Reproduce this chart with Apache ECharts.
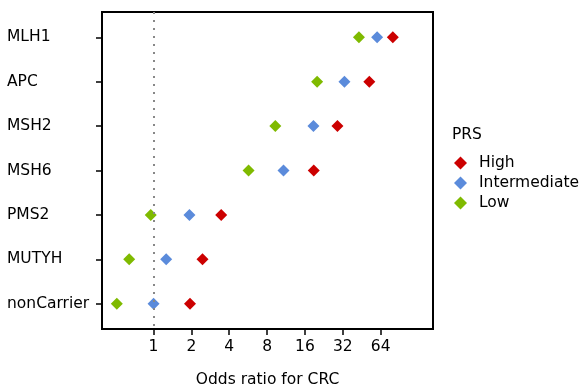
<!DOCTYPE html>
<html>
<head>
<meta charset="utf-8">
<script src="https://cdn.jsdelivr.net/npm/echarts@6/dist/echarts.min.js"></script>
<style>
  html, body { margin: 0; padding: 0; background: #fff; }
  #chart { width: 583px; height: 388px; }
</style>
</head>
<body>
<div id="chart"></div>
<script>
// genes, top to bottom
const genes = ['MLH1', 'APC', 'MSH2', 'MSH6', 'PMS2', 'MUTYH', 'nonCarrier'];
// odds ratios per PRS group, same order as genes
const highOR = [80, 52, 29, 18.8, 3.45, 2.45, 1.95];
const intermediateOR = [60, 33, 18.7, 10.8, 1.93, 1.26, 1.0];
const lowOR = [43, 20, 9.3, 5.7, 0.95, 0.64, 0.51];
const xTicks = [1, 2, 4, 8, 16, 32, 64];

const colors = { High: '#CC0000', Intermediate: '#5B8BDB', Low: '#7FBA00' };
const font = 'DejaVu Sans';
const fs = 15.5;

function points(values) {
  return values.map((v, i) => [v, i]);
}

const chart = echarts.init(document.getElementById('chart'));
const option = {
  animation: false,
  textStyle: { fontFamily: font },
  title: {
    text: 'PRS',
    left: 452,
    top: 127,
    padding: 0,
    textStyle: { fontFamily: font, fontSize: fs, fontWeight: 'normal', color: '#000' }
  },
  legend: {
    orient: 'vertical',
    left: 454,
    top: 155,
    padding: 0,
    icon: 'diamond',
    itemWidth: 13,
    itemHeight: 13,
    itemGap: 4,
    textStyle: { fontFamily: font, fontSize: fs, color: '#000', padding: [0, 0, 0, 7] },
    data: ['High', 'Intermediate', 'Low']
  },
  grid: {
    left: 102,
    right: 150,
    top: 12,
    bottom: 59,
    outerBoundsMode: 'none',
    containLabel: false,
    show: true,
    borderColor: '#000',
    borderWidth: 2
  },
  xAxis: {
    type: 'log',
    logBase: 2,
    min: 0.389,
    max: 167,
    name: 'Odds ratio for CRC',
    nameLocation: 'middle',
    nameGap: 43,
    nameTextStyle: { fontFamily: font, fontSize: fs, color: '#000' },
    axisLine: { show: true, onZero: false, lineStyle: { color: '#000', width: 2 } },
    axisTick: { show: true, length: 6, lineStyle: { color: '#000', width: 1.5 }, customValues: xTicks },
    axisLabel: { fontFamily: font, fontSize: fs, color: '#000', margin: 10, customValues: xTicks },
    splitLine: { show: false }
  },
  yAxis: {
    type: 'value',
    inverse: true,
    min: -0.57,
    max: 6.57,
    axisLine: { show: true, onZero: false, lineStyle: { color: '#000', width: 2 } },
    axisTick: { show: true, length: 6, lineStyle: { color: '#000', width: 1.5 }, customValues: [0, 1, 2, 3, 4, 5, 6] },
    axisLabel: {
      fontFamily: font, fontSize: fs, color: '#000',
      align: 'left', margin: 95,
      customValues: [0, 1, 2, 3, 4, 5, 6],
      formatter: v => genes[v]
    },
    splitLine: { show: false }
  },
  series: [
    {
      name: 'High', type: 'scatter', symbol: 'diamond', symbolSize: 12,
      itemStyle: { color: colors.High, opacity: 1 }, data: points(highOR),
      markLine: {
        silent: true, symbol: 'none', label: { show: false },
        lineStyle: { color: '#888', type: [2, 6], width: 2 },
        data: [{ xAxis: 1 }]
      }
    },
    {
      name: 'Intermediate', type: 'scatter', symbol: 'diamond', symbolSize: 12,
      itemStyle: { color: colors.Intermediate, opacity: 1 }, data: points(intermediateOR)
    },
    {
      name: 'Low', type: 'scatter', symbol: 'diamond', symbolSize: 12,
      itemStyle: { color: colors.Low, opacity: 1 }, data: points(lowOR)
    }
  ]
};
chart.setOption(option);
</script>
</body>
</html>
